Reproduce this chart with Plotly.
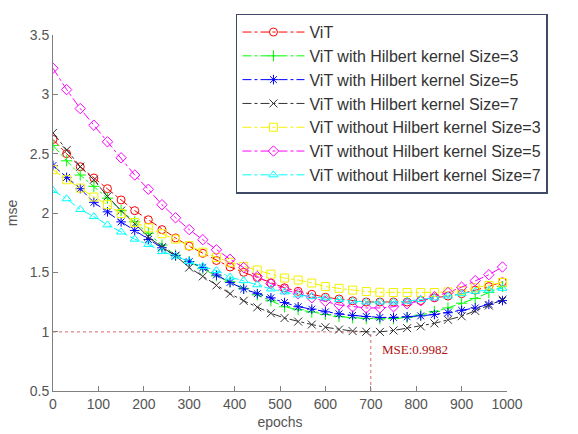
import plotly.graph_objects as go

epochs = list(range(0, 1000, 30))

names = [
    "ViT",
    "ViT with Hilbert kernel Size=3",
    "ViT with Hilbert kernel Size=5",
    "ViT with Hilbert kernel Size=7",
    "ViT without Hilbert kernel Size=3",
    "ViT without Hilbert kernel Size=5",
    "ViT without Hilbert kernel Size=7",
]

vit = [2.62, 2.50, 2.39, 2.295, 2.205, 2.11, 2.02, 1.943, 1.86, 1.79, 1.72, 1.66, 1.60, 1.545, 1.50, 1.455, 1.41,
       1.37, 1.34, 1.315, 1.29, 1.275, 1.26, 1.25, 1.25, 1.25, 1.25, 1.262, 1.285, 1.30, 1.32, 1.35, 1.38, 1.42]
with3 = [2.57, 2.44, 2.32, 2.225, 2.125, 2.02, 1.925, 1.83, 1.73, 1.645, 1.59, 1.53, 1.47, 1.42, 1.365, 1.31, 1.26,
         1.21, 1.185, 1.165, 1.145, 1.128, 1.117, 1.11, 1.108, 1.11, 1.12, 1.14, 1.17, 1.20, 1.24, 1.28, 1.33, 1.38]
with5 = [2.40, 2.30, 2.205, 2.09, 2.01, 1.925, 1.853, 1.777, 1.707, 1.64, 1.59, 1.54, 1.478, 1.415, 1.36, 1.32, 1.285,
         1.245, 1.21, 1.19, 1.167, 1.15, 1.137, 1.128, 1.12, 1.12, 1.125, 1.133, 1.145, 1.16, 1.18, 1.20, 1.23, 1.262]
with7 = [2.675, 2.53, 2.39, 2.28, 2.14, 2.02, 1.91, 1.80, 1.712, 1.64, 1.54, 1.466, 1.39, 1.32, 1.26, 1.205, 1.155,
         1.115, 1.085, 1.06, 1.037, 1.018, 1.005, 0.999, 0.9982, 1.01, 1.03, 1.045, 1.07, 1.10, 1.13, 1.175, 1.22, 1.27]
without3 = [2.365, 2.28, 2.21, 2.135, 2.07, 1.995, 1.92, 1.875, 1.825, 1.78, 1.725, 1.67, 1.625, 1.585, 1.55, 1.52, 1.485,
            1.452, 1.435, 1.41, 1.38, 1.365, 1.35, 1.338, 1.332, 1.33, 1.33, 1.33, 1.33, 1.335, 1.345, 1.37, 1.39, 1.415]
without5 = [3.22, 3.04, 2.88, 2.74, 2.60, 2.465, 2.32, 2.20, 2.07, 1.96, 1.86, 1.775, 1.69, 1.61, 1.54, 1.465, 1.405,
            1.355, 1.32, 1.285, 1.255, 1.225, 1.21, 1.20, 1.20, 1.21, 1.235, 1.26, 1.295, 1.33, 1.375, 1.43, 1.48, 1.545]
without7 = [2.19, 2.12, 2.03, 1.97, 1.90, 1.84, 1.78, 1.735, 1.675, 1.637, 1.59, 1.55, 1.515, 1.46, 1.43, 1.395, 1.36,
            1.335, 1.31, 1.295, 1.285, 1.27, 1.258, 1.25, 1.25, 1.25, 1.257, 1.27, 1.285, 1.30, 1.32, 1.34, 1.35, 1.365]

min_epoch = 700
min_mse = 0.9982

series = [vit, with3, with5, with7, without3, without5, without7]
colors = ["#ff0000", "#00ff00", "#0000ff", "#333333", "#f2f200", "#ff00ff", "#00ffff"]
symbols = ["circle-open", "cross-thin-open", "asterisk-open", "x-thin-open",
           "square-open", "diamond-open", "triangle-up-open"]

fig = go.Figure()
for name, ys, c, s in zip(names, series, colors, symbols):
    fig.add_trace(go.Scatter(
        x=epochs, y=ys, name=name, mode="lines+markers",
        line=dict(color=c, width=1, dash="dashdot"),
        marker=dict(symbol=s, size=8, color=c, line=dict(color=c, width=1)),
    ))

# minimum marker lines
fig.add_shape(type="line", x0=0, x1=min_epoch, y0=min_mse, y1=min_mse,
              line=dict(color="#d04040", width=0.8, dash="dot"), layer="below")
fig.add_shape(type="line", x0=min_epoch, x1=min_epoch, y0=0.5, y1=min_mse,
              line=dict(color="#d04040", width=0.8, dash="dot"), layer="below")
fig.add_annotation(x=min_epoch + 20, y=0.85, text="MSE:%.4f" % min_mse, showarrow=False,
                   xanchor="left", yanchor="middle",
                   font=dict(family="Liberation Serif", size=13, color="#b01010"))

axis_common = dict(showline=True, linecolor="#808080", linewidth=1, ticks="inside", ticklen=5,
                   tickcolor="#808080", showgrid=False, zeroline=False, mirror=False, automargin=False,
                   tickfont=dict(family="Liberation Sans", size=14, color="#555555"))

fig.update_xaxes(range=[0, 1000], dtick=100, tick0=0,
                 title=dict(text="epochs", font=dict(family="Liberation Sans", size=14, color="#555555"), standoff=6),
                 **axis_common)
fig.update_yaxes(range=[0.5, 3.5], dtick=0.5, tick0=0.5,
                 title=dict(text="mse", font=dict(family="Liberation Sans", size=14, color="#555555"), standoff=8),
                 **axis_common)

fig.update_layout(
    width=578, height=434,
    margin=dict(l=53, r=71, t=35, b=43),
    plot_bgcolor="white", paper_bgcolor="white",
    legend=dict(x=0.403, y=1.06, xanchor="left", yanchor="top",
                bgcolor="white", bordercolor="#3f4a66", borderwidth=1.5,
                font=dict(family="Liberation Sans", size=16, color="#333333"),
                itemwidth=62, tracegroupgap=0),
    showlegend=True,
)

fig.write_html("out.html")
